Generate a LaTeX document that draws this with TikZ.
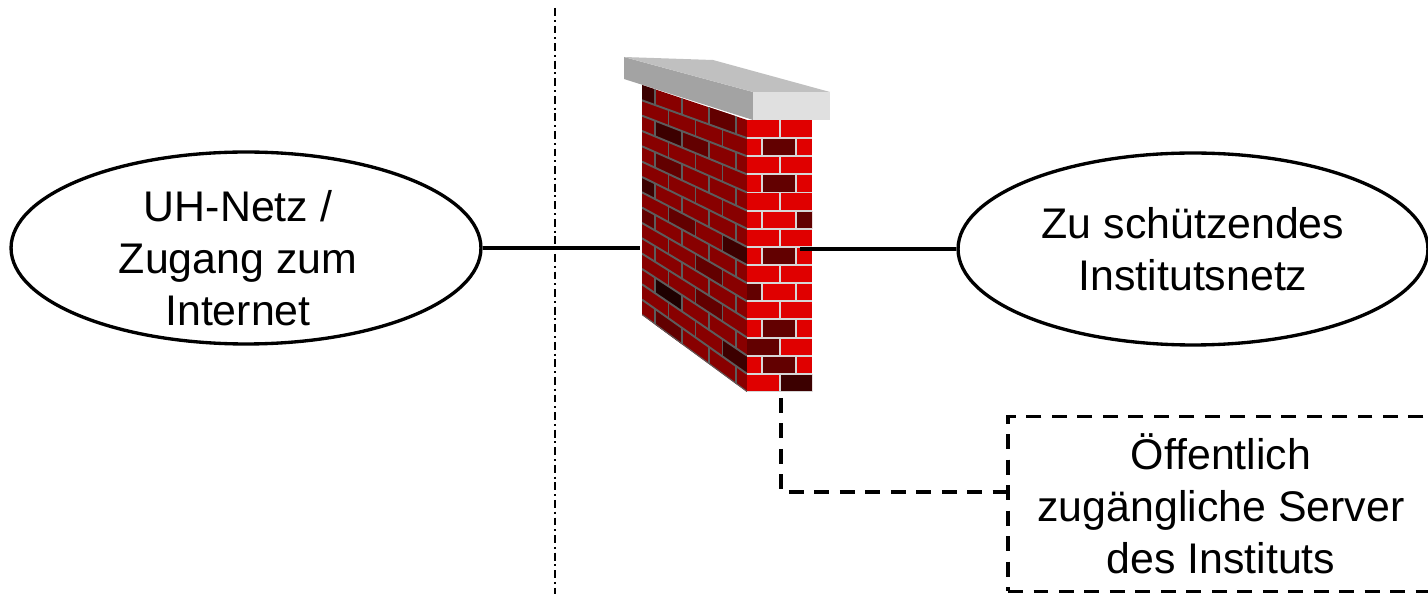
\documentclass[tikz,border=0pt]{standalone}
\usepackage{fontspec}
\setmainfont{Liberation Sans}
\usepackage{tikz}
\usetikzlibrary{shapes.geometric}

\definecolor{brickside}{HTML}{880000}
\definecolor{brickfront}{HTML}{E00000}
\definecolor{brickdark}{HTML}{620000}
\definecolor{brickdeep}{HTML}{3C0000}
\definecolor{brickblack}{HTML}{1E0000}
\definecolor{mortardark}{HTML}{5C5C5C}
\definecolor{mortarlight}{HTML}{D6D6D6}
\definecolor{captop}{HTML}{C0C0C0}
\definecolor{capside}{HTML}{A3A3A3}
\definecolor{capend}{HTML}{E0E0E0}

\begin{document}
\begin{tikzpicture}[x=0.02cm, y=-0.02cm]
			\tikzstyle{every node} = [font = \fontsize{24.4}{29.5}\selectfont]
			\tikzstyle{net} = [draw, ellipse, line width=1.9pt, inner sep=0pt, align=center,
				minimum width=9.4cm, minimum height=3.84cm]
			\tikzstyle{srvbox} = [draw, rectangle, line width=2pt, dash pattern=on 8.5pt off 6pt,
				align=center, minimum width=8.52cm, minimum height=3.5cm]
			\tikzstyle{link} = [line width=1.9pt]
			\tikzstyle{dmzlink} = [line width=2pt, dash pattern=on 8.5pt off 6pt]
			\tikzstyle{sep} = [line width=0.9pt, dash pattern=on 4.5pt off 2.2pt on 1.1pt off 2.2pt]
			\tikzstyle{mortar} = [line width=1.1pt]
			\useasboundingbox (0,0) rectangle (1428,594);

				% border between outside and inside
				\path[draw, sep] (555,8) -- (555,594);

				\node[net, label={[align=center, xshift=-0.16cm, yshift=-0.2cm]center:UH-Netz /\\Zugang zum\\Internet}]
					(uh) at (246,248) {};
				\node[net] (inst) at (1193,249) {Zu schützendes\\Institutsnetz};
				\node[srvbox] (srv) at (1221,504) {Öffentlich\\zugängliche Server\\des Instituts};

				% firewall: slanted side of the wall
				\begin{scope}
					\clip (642,85) -- (747,120) -- (747,392) -- (642,315) -- cycle;
					\fill[brickside] (600,0) rectangle (760,400);
					\foreach \r/\k/\c in {0/0/brickdeep, 0/3/brickdark, 2/1/brickdeep, 2/2/brickdark,
							4/1/brickdark, 6/0/brickdeep, 8/0/brickdark, 7/1/brickdark, 7/3/brickdeep,
							9/2/brickdark, 11/2/brickdark, 12/1/brickblack, 13/3/brickdeep, 14/1/brickdark} {
						\pgfmathsetmacro\xa{655+13.5*mod(\r,2)+27*(\k-1)}
						\pgfmathsetmacro\xb{\xa+27}
						\fill[\c] (\xa,{85+15.33*\r+(\xa-642)*(35+2.8*\r)/105})
							-- (\xb,{85+15.33*\r+(\xb-642)*(35+2.8*\r)/105})
							-- (\xb,{85+15.33*(\r+1)+(\xb-642)*(35+2.8*(\r+1))/105})
							-- (\xa,{85+15.33*(\r+1)+(\xa-642)*(35+2.8*(\r+1))/105}) -- cycle;
					}
					\foreach \r in {1,...,15}
						\draw[mortar, mortardark] (642,{85+15.33*\r}) -- (747,{120+18.13*\r});
					\foreach \r in {0,...,14}
						\foreach \k in {0,...,3} {
							\pgfmathsetmacro\xj{655+13.5*mod(\r,2)+27*\k}
							\draw[mortar, mortardark] (\xj,{85+15.33*\r+(\xj-642)*(35+2.8*\r)/105})
								-- (\xj,{85+15.33*(\r+1)+(\xj-642)*(35+2.8*(\r+1))/105});
						}
				\end{scope}

				% firewall: front of the wall
				\begin{scope}
					\clip (747,120) rectangle (812,392);
					\fill[brickfront] (747,120) rectangle (812,392);
					\foreach \r/\k/\c in {1/1/brickdark, 3/1/brickdark, 5/2/brickdark, 7/1/brickdark,
							9/0/brickdark, 11/1/brickdark, 12/0/brickdark, 13/1/brickdark, 14/1/brickdeep}
						\fill[\c] ({780-18*mod(\r,2)+34*(\k-1)},{120+18.13*\r})
							rectangle ({780-18*mod(\r,2)+34*\k},{120+18.13*(\r+1)});
					\foreach \r in {1,...,15}
						\draw[mortar, mortarlight] (747,{120+18.13*\r}) -- (812,{120+18.13*\r});
					\foreach \r in {0,...,14}
						\foreach \k in {0,1}
							\draw[mortar, mortarlight] ({780-18*mod(\r,2)+34*\k},{120+18.13*\r})
								-- ({780-18*mod(\r,2)+34*\k},{120+18.13*(\r+1)});
				\end{scope}

				% cover slab
				\fill[capside] (624,57) -- (753,92) -- (753,120) -- (624,79) -- cycle;
				\fill[captop] (624,57) -- (713,60) -- (830,92) -- (753,92) -- cycle;
				\fill[capend] (753,92) rectangle (830,120);

				\coordinate (wallL) at (640,248);
				\coordinate (wallR) at (800,249);
				\coordinate (wallB) at (781,398);

				\path[draw, link] (uh) -- (wallL);
				\path[draw, link] (wallR) -- (inst);
				\path[draw, dmzlink] (wallB) |- ([yshift=0.24cm]srv.west);
\end{tikzpicture}
\end{document}
